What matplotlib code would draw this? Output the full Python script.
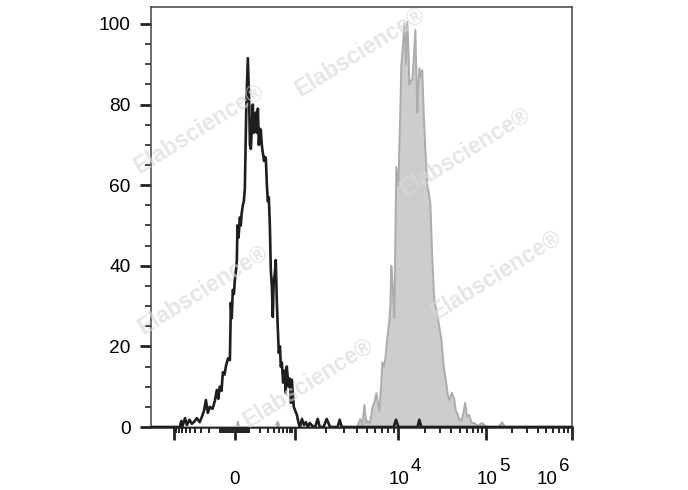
import numpy as np
import matplotlib
matplotlib.use("Agg")
import matplotlib.pyplot as plt
from matplotlib.transforms import offset_copy

plt.rcParams['font.family'] = ['Liberation Sans', 'DejaVu Sans']

# unstained control (black line): fluorescence intensity, % of max
black_x = [-1670, -962, -774, -730, -700, -620, -571, -510, -457, -400, -365, -320,
           -288, -260, -236, -214, -192, -165, -144, -127, -115, -103, -90, -80,
           -68, -59, -45, -32, -28, -26, -20, -13, -6, 0, 8, 13, 17, 24, 33, 39,
           45, 53, 60, 67, 78, 89, 100, 105, 113, 129, 138, 156, 166, 176, 186,
           196, 207, 218, 230, 245, 255, 268, 282, 296, 310, 326, 341, 358, 375,
           390, 411, 430, 450, 470, 493, 520, 540, 566, 600, 647, 670, 705, 740,
           771, 810, 850, 881, 960, 1050, 1090, 1125, 1176, 1230, 1283, 1340, 1400,
           1480, 1580, 1670, 1750, 1900, 2040, 2200, 2600, 2720, 2850, 9000, 9480,
           10000, 16500, 17300, 18200, 1000000]
black_y = [0, 0, 0, 1.5, 0, 2.2, 0.5, 1.8, 0.8, 1.5, 2.2, 1.2,
           2.5, 4, 6.7, 3.5, 5, 4.5, 6.5, 9.2, 7, 10, 9, 13.6,
           13, 15, 17, 16.6, 25, 30.8, 27, 34, 33, 36.5, 39, 41.4, 50, 47, 52, 50,
           53, 55, 56, 59, 80, 91.5, 80, 70, 69, 80, 73, 78, 73, 79, 70,
           74, 73.7, 70, 68, 66, 67, 66.7, 60, 56, 57, 50, 39, 35, 27.3,
           36, 38, 41.4, 31.5, 25, 18.4, 20, 15, 16, 11, 14, 8.4, 15, 12,
           10, 12, 6, 11.7, 5, 3, 1, 0, 2, 0.5, 1.2, 0, 1,
           0.3, 0, 2, 0, 0, 2, 0, 0, 1.8, 0, 0, 1.8,
           0, 0, 1.8, 0, 0]

# stained sample (grey fill)
gray_x = [-1670, -962, 15, 20, 26, 430, 470, 510, 4000, 4300, 4500, 4710, 4900,
          5030, 5300, 5500, 5620, 5850, 6140, 6350, 6560, 6800, 7010, 7250, 7490,
          7800, 8180, 8350, 8550, 8800, 9130, 9540, 9980, 10400, 10800, 11200,
          11700, 12200, 12600, 13000, 13300, 13800, 14400, 15000, 15600, 16000,
          16400, 16900, 17300, 18000, 18700, 19400, 20200, 21300, 22200, 23100,
          24300, 25600, 27000, 28400, 29600, 30800, 32800, 35000, 36500, 37900,
          40500, 43200, 45000, 46700, 49000, 51900, 54500, 57600, 60500, 64000,
          68000, 73000, 80000, 90000, 100000, 140000, 153000, 165000, 1000000]
gray_y = [0, 0, 0, 1.3, 0, 0, 1.3, 0, 0, 2, 0.5, 5.5, 1,
          1.5, 1, 3, 5, 6, 8.4, 6, 4, 10, 16, 15, 17,
          22, 26.5, 30, 40, 35, 27, 64.5, 60, 75, 90, 94,
          100, 90, 100.5, 94, 85, 86, 86, 92, 98.5, 88,
          78, 85, 89, 87, 88.5, 78, 69.5, 60, 58, 55.5,
          42, 31.5, 29, 26.5, 24, 22, 15, 11, 8, 6.7,
          8.5, 7, 4, 3.5, 2, 1.5, 3, 6, 2.5, 3,
          1, 1, 0.3, 1, 0, 0, 1.2, 0, 0]

# biexponential-like display axis, calibrated on the decade marks
scale_vals = [-1e7, -1e6, -1e5, -1e4, -1e3, 0, 1e3, 1e4, 1e5, 1e6, 1e7]
scale_pos = [-424, -338, -252, -165, -61, 0, 60, 164, 252, 338, 424]
scale_t = np.arcsinh(np.array(scale_vals) / 150.0)


def fwd(x):
    return np.interp(np.arcsinh(np.asarray(x, dtype=float) / 150.0), scale_t, scale_pos)


def inv(p):
    return 150.0 * np.sinh(np.interp(np.asarray(p, dtype=float), scale_pos, scale_t))


fig = plt.figure(figsize=(6.88, 4.9), dpi=100)
ax = fig.add_axes([151 / 688, 63 / 490, 421 / 688, 420 / 490])
ax.set_xscale('function', functions=(fwd, inv))

ax.fill_between(gray_x, gray_y, 0, facecolor='#cdcdcd', edgecolor='none', zorder=2)
ax.plot(gray_x, gray_y, color='#acacac', lw=1.4, zorder=3)
ax.plot(black_x, black_y, color='#1e1e1e', lw=1.9, zorder=4)

ax.set_xlim(-1670, 1000000)
ax.set_ylim(0, 104.2)

major_x = [-1000, 0, 1000, 10000, 100000, 1000000]
minor_x = []
for m in range(1, 10):
    minor_x += [-m * 100, -m * 10, m * 10, m * 100]
for e in [1000, 10000, 100000]:
    minor_x += [m * e for m in range(2, 10)]
ax.set_xticks(major_x)
ax.set_xticklabels([])
ax.set_xticks(minor_x, minor=True)

# x labels: "10" centred on the tick, exponent at full size beside it
xt = ax.get_xaxis_transform()
base_y = -0.1357
ax.text(0, base_y, '0', transform=xt, ha='center', va='baseline', fontsize=13.5)
for val, exp, shift in [(10000, '4', 0), (100000, '5', 0), (1000000, '6', -25)]:
    ax.text(val, base_y, '10', transform=offset_copy(xt, fig, x=shift + 0.5, y=0, units='dots'),
            ha='center', va='baseline', fontsize=13.5)
    ax.text(val, base_y, exp, transform=offset_copy(xt, fig, x=shift + 12.5, y=12.5, units='dots'),
            ha='left', va='baseline', fontsize=13.5)

ax.set_yticks([0, 20, 40, 60, 80, 100])
ax.set_yticks(np.arange(5, 105, 5), minor=True)
ax.tick_params(axis='y', labelsize=13.8)

ax.tick_params(axis='x', which='major', direction='out', length=9.5, width=2,
               color='#222222')
ax.tick_params(axis='x', which='minor', direction='out', length=4.5, width=1.4,
               color='#222222')
ax.tick_params(axis='y', which='major', direction='out', length=8, width=2,
               pad=6.5, color='#222222')
ax.tick_params(axis='y', which='minor', direction='out', length=4, width=1.2,
               color='#222222')

for side in ['top', 'right', 'left']:
    ax.spines[side].set_color('#444444')
    ax.spines[side].set_linewidth(1.1)
ax.spines['bottom'].set_color('#222222')
ax.spines['bottom'].set_linewidth(1.8)

# watermark
marks = [(360, 52), (199, 129), (465, 152), (203, 290), (496, 275), (308, 383)]
for mx, my in marks:
    fig.text(mx / 688, 1 - my / 490, 'Elabscience®', rotation=32, ha='center',
             va='center', fontsize=16.5, fontweight='bold', color='#d9d9d9',
             alpha=0.65, zorder=10)

fig.savefig('out.png', dpi=100)
